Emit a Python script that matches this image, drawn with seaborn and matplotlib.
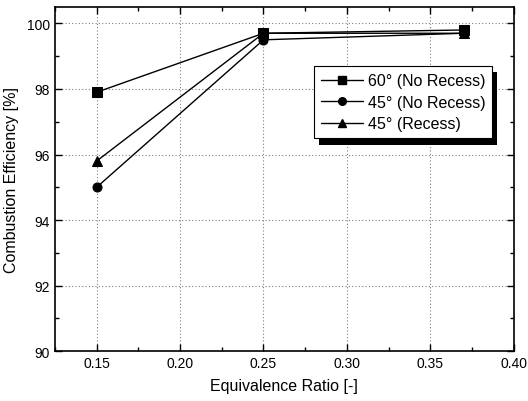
import matplotlib
matplotlib.use("Agg")
import matplotlib.pyplot as plt
import seaborn as sns
import pandas as pd
from matplotlib.ticker import MultipleLocator
from matplotlib.lines import Line2D
import matplotlib.patheffects as pe

ratio = [0.15, 0.25, 0.37]
eff_60_norecess = [97.9, 99.7, 99.8]
eff_45_norecess = [95.0, 99.5, 99.7]
eff_45_recess = [95.8, 99.7, 99.7]
labels = ["60\u00b0 (No Recess)", "45\u00b0 (No Recess)", "45\u00b0 (Recess)"]
markers = ["s", "o", "^"]

rows = []
for lab, vals in zip(labels, [eff_60_norecess, eff_45_norecess, eff_45_recess]):
    for x, y in zip(ratio, vals):
        rows.append({"ratio": x, "eff": y, "series": lab})
df = pd.DataFrame(rows)

sns.set_style("ticks")
plt.rcParams["font.family"] = ["Liberation Sans", "DejaVu Sans"]
for k in ["text.color", "axes.labelcolor", "xtick.color", "ytick.color", "axes.edgecolor"]:
    plt.rcParams[k] = "black"

fig = plt.figure(figsize=(5.28, 4.02), dpi=100)
ax = fig.add_axes([0.104, 0.124, 0.869, 0.856])

sns.lineplot(data=df, x="ratio", y="eff", hue="series", style="series",
             markers=markers, dashes=False, palette=["black"] * 3,
             markersize=6.5, linewidth=1.0, markeredgecolor="black",
             ax=ax, legend=False)

ax.set_xlim(0.125, 0.40)
ax.set_ylim(90, 100.5)
ax.set_xticks([0.15, 0.20, 0.25, 0.30, 0.35, 0.40])
ax.set_xticklabels(["0.15", "0.20", "0.25", "0.30", "0.35", "0.40"])
ax.set_yticks([90, 92, 94, 96, 98, 100])
ax.set_yticklabels(["90", "92", "94", "96", "98", "100"])
ax.xaxis.set_minor_locator(MultipleLocator(0.025))
ax.yaxis.set_minor_locator(MultipleLocator(1))
ax.tick_params(which="both", direction="in", top=True, right=True, labelsize=10, color="black")
ax.tick_params(which="major", length=5, width=1)
ax.tick_params(which="minor", length=3, width=1)
ax.grid(True, which="major", linestyle=(0, (1, 2)), color="gray", linewidth=0.8)
for s in ax.spines.values():
    s.set_linewidth(1.2)
    s.set_color("black")

ax.set_xlabel("Equivalence Ratio [-]", fontsize=11.5, labelpad=6)
ax.set_ylabel("Combustion Efficiency [%]", fontsize=11.5, labelpad=6)

handles = [Line2D([], [], color="black", linewidth=1.0, marker=m, markersize=5.5)
           for m in markers]
leg = ax.legend(handles, labels, loc="upper left", bbox_to_anchor=(0.565, 0.828),
                frameon=True, fancybox=False, shadow=False,
                fontsize=11.5, handlelength=2.6, borderpad=0.45, labelspacing=0.4,
                handletextpad=0.3, framealpha=1, borderaxespad=0)
fr = leg.get_frame()
fr.set_edgecolor("black")
fr.set_linewidth(0.8)
fr.set_path_effects([pe.SimplePatchShadow(offset=(3.5, -4.5), shadow_rgbFace="black", alpha=1),
                     pe.Normal()])

fig.savefig("out.png", dpi=100)
